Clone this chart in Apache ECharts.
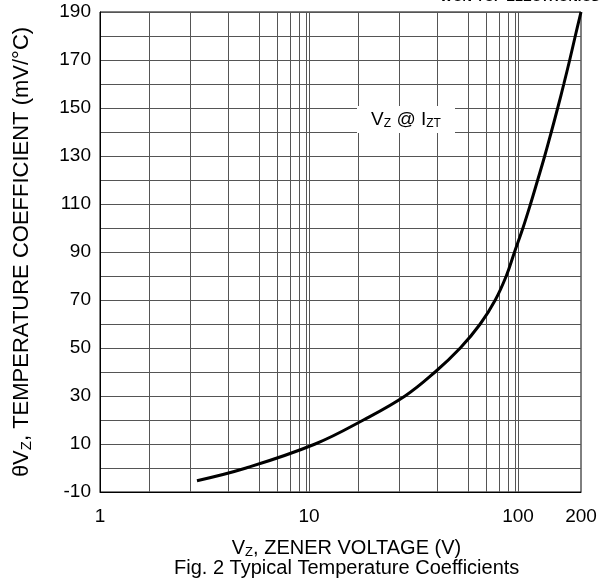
<!DOCTYPE html>
<html>
<head>
<meta charset="utf-8">
<script src="https://cdn.jsdelivr.net/npm/echarts@6/dist/echarts.min.js"></script>
<style>
  html, body { margin: 0; padding: 0; background: #fff; }
  #chart { width: 606px; height: 587px; }
</style>
</head>
<body>
<div id="chart"></div>
<script>
// zener voltage (V)
const zenerVolts = [2.91, 5.0, 10.7, 18.2, 28.8, 40.1, 52.9, 65.9, 77.8, 87.8, 96.2, 105.5, 114.7, 124.1, 134.1, 144.2, 154.7, 165.5, 176.6, 187.8, 200];
// temperature coefficient (mV/°C)
const tempCoeff = [-5.3, 0, 10, 20, 30, 40, 50, 60, 70, 80, 90, 100, 110, 120, 130, 140, 150, 160, 170, 180, 190];
// vertical grid lines of the datasheet grid (V)
const gridVolts = [1, 1.72, 2.71, 4.11, 5.75, 7.02, 8.13, 9.0, 9.68, 10, 17.2, 27.1, 41.1, 57.5, 70.2, 81.3, 90, 96.8, 100];
const xLabelVolts = [1, 10, 100, 200];
const yMin = -10, yMax = 190, yStep = 10;

const font = 'Liberation Sans';
const chart = echarts.init(document.getElementById('chart'));

chart.setOption({
  animation: false,
  grid: { left: 100, right: 25, top: 12, bottom: 95, show: true, borderColor: '#000', borderWidth: 1 },
  title: {
    text: 'Fig. 2 Typical Temperature Coefficients',
    left: 169, top: 553,
    textStyle: { fontFamily: font, fontSize: 20, fontWeight: 'normal', color: '#000' }
  },
  xAxis: {
    type: 'value',
    min: 0,
    max: Math.log10(200),
    name: '{n|V}{s|Z}{n|, ZENER VOLTAGE (V)}',
    nameLocation: 'middle',
    nameGap: 45,
    nameTextStyle: {
      padding: [0, 0, 0, 12],
      rich: {
        n: { fontFamily: font, fontSize: 20, color: '#000', lineHeight: 22 },
        s: { fontFamily: font, fontSize: 13, color: '#000', verticalAlign: 'bottom', lineHeight: 22, padding: [8, 0, 0, 0] }
      }
    },
    axisLine: { show: true, onZero: false, lineStyle: { color: '#000' } },
    axisTick: { show: false, customValues: gridVolts.map(Math.log10) },
    axisLabel: {
      customValues: xLabelVolts.map(Math.log10),
      formatter: v => String(Math.round(Math.pow(10, v))),
      fontFamily: font, fontSize: 19, color: '#000', margin: 15
    },
    splitLine: { show: true, lineStyle: { color: '#555', width: 1 } }
  },
  yAxis: {
    type: 'value',
    min: yMin,
    max: yMax,
    interval: yStep,
    name: '{n|θV}{s|Z}{n|, TEMPERATURE COEFFICIENT (mV/°C)}',
    nameLocation: 'middle',
    nameGap: 66,
    nameTextStyle: {
      rich: {
        n: { fontFamily: font, fontSize: 22, color: '#000', lineHeight: 24 },
        s: { fontFamily: font, fontSize: 15, color: '#000', verticalAlign: 'bottom', lineHeight: 24, padding: [8, 0, 0, 0] }
      }
    },
    axisLine: { show: true, lineStyle: { color: '#000' } },
    axisTick: { show: false },
    axisLabel: {
      formatter: v => ((v - yMin) % 20 === 0 ? String(v) : ''),
      fontFamily: font, fontSize: 19, color: '#000', margin: 9
    },
    splitLine: { show: true, lineStyle: { color: '#555', width: 1 } }
  },
  graphic: [
    {
      type: 'rect', z: 100,
      shape: { x: 357, y: 106, width: 98, height: 27 },
      style: { fill: '#fff' }
    },
    {
      type: 'text', z: 101,
      style: {
        x: 406, y: 120, align: 'center', verticalAlign: 'middle',
        text: '{n|V}{s|Z}{n| @ I}{s|ZT}',
        rich: {
          n: { fontFamily: font, fontSize: 19, fill: '#000', lineHeight: 20 },
          s: { fontFamily: font, fontSize: 12, fill: '#000', verticalAlign: 'bottom', lineHeight: 20, padding: [6, 0, 0, 0] }
        }
      }
    },
    {
      type: 'text', right: 6, top: -9,
      style: { text: 'WON-TOP ELECTRONICS', font: 'italic bold 13px ' + font, fill: '#000' }
    }
  ],
  series: [{
    type: 'line',
    data: zenerVolts.map((v, i) => [Math.log10(v), tempCoeff[i]]),
    smooth: 0.4,
    showSymbol: false,
    lineStyle: { color: '#000', width: 3 }
  }]
});
</script>
</body>
</html>
